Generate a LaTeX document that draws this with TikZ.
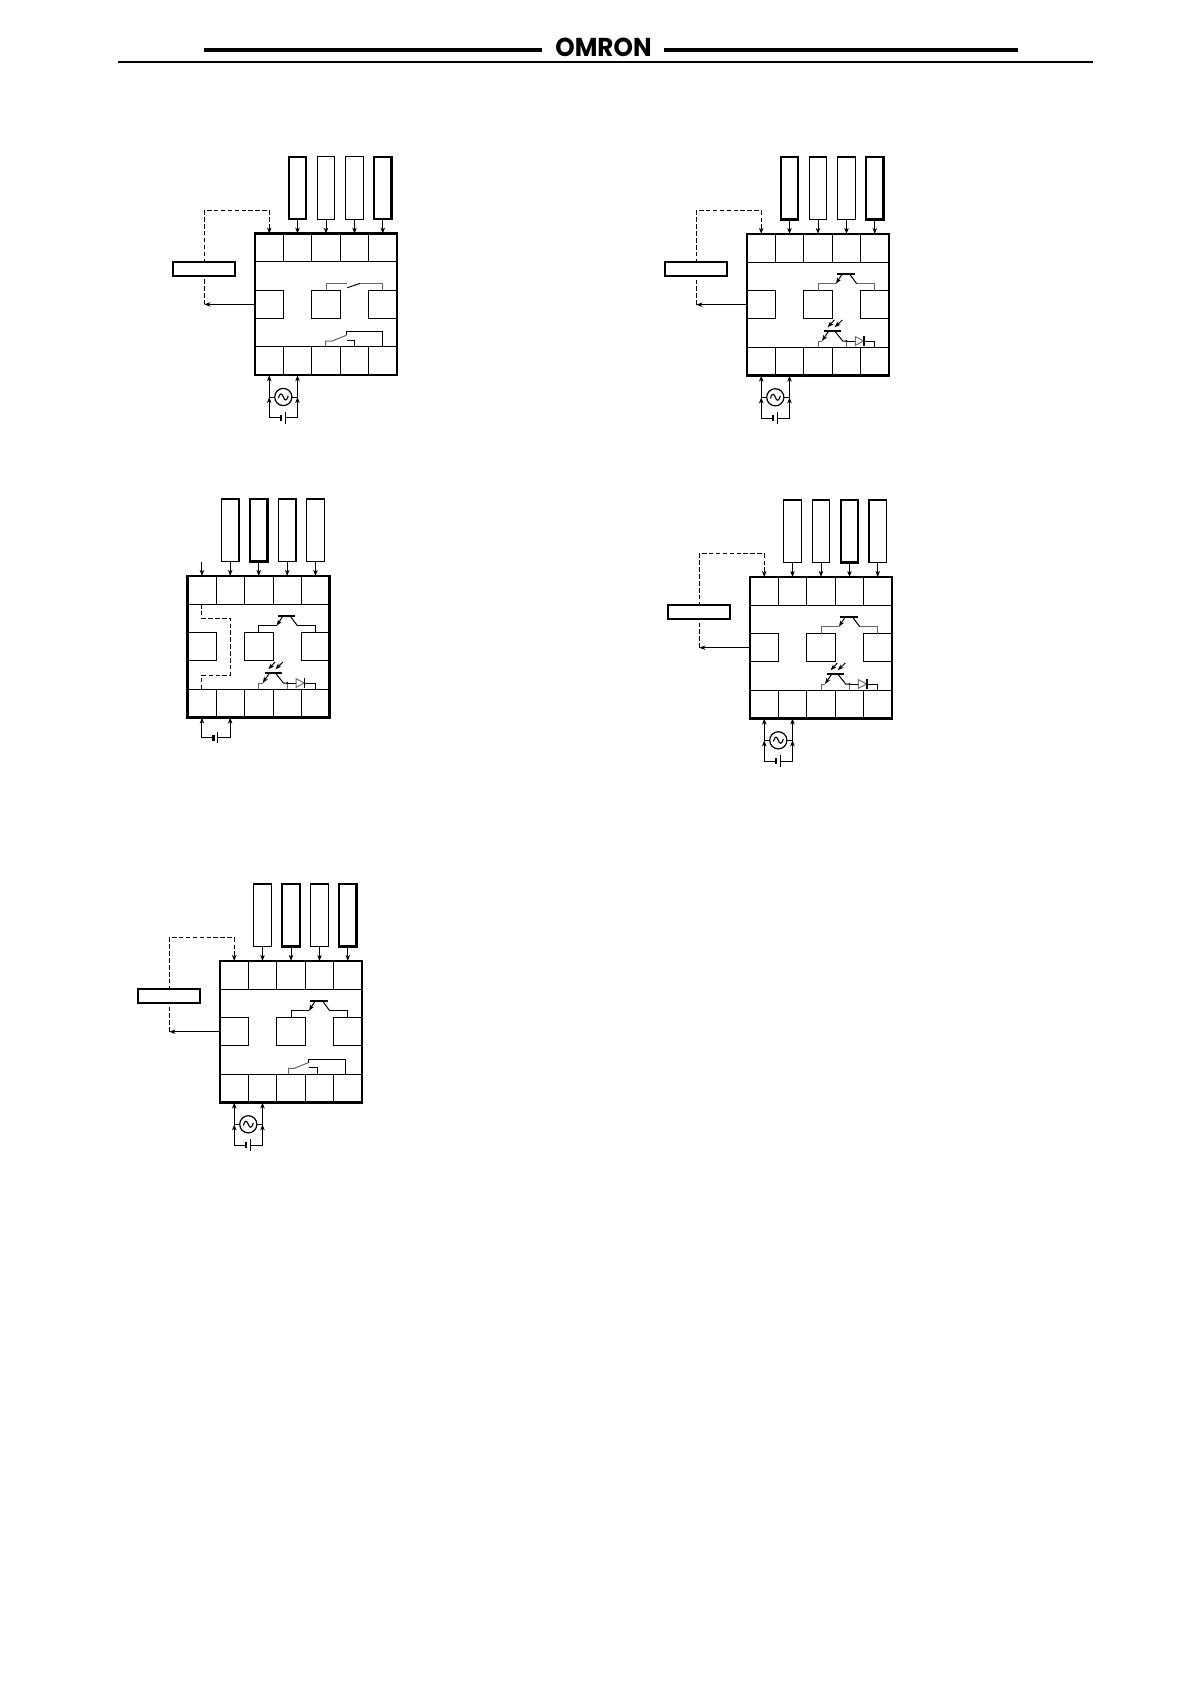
\documentclass[tikz,border=0pt]{standalone}
\usepackage{fontspec}
\usetikzlibrary{arrows.meta,calc}
\newfontfamily\logofont{Poppins}
\tikzset{
  x=1pt,y=-1pt,
  wire/.style={line width=1pt,line join=miter},
  gwire/.style={line width=1pt,draw=black!60},
  arr/.style={wire,-{Stealth[length=6pt,width=4.4pt,inset=1.6pt]}},
  dashwire/.style={wire,dash pattern=on 4.5pt off 2.4pt},
  dasharr/.style={arr,dash pattern=on 4.5pt off 2.4pt},
  cell/.style={draw,line width=1pt,inner sep=0pt,outer sep=0pt,minimum height=28pt},
  outer/.style={draw,line width=2.5pt,inner sep=0pt,outer sep=0pt,minimum width=142pt,minimum height=141.5pt},
  tallbox/.style={draw,inner sep=0pt,outer sep=0pt,minimum width=17.5pt,minimum height=62.5pt},
  thinb/.style={line width=1.4pt},
  thickb/.style={line width=2.2pt},
  ctrlbox/.style={draw,fill=white,line width=2.1pt,inner sep=0pt,outer sep=0pt,minimum width=62.5pt,minimum height=14.3pt},
  acsrc/.style={circle,draw,line width=1.2pt,inner sep=0pt,outer sep=0pt,minimum size=17.2pt},
  topbar/.style={line width=4pt},
  rule/.style={line width=2pt}
}
% the frame with its cells and four top boxes
\newcommand{\ctrlunit}[4]{%
  \node[cell,minimum width=28.5pt] (c1) at (14.25,14) {};
  \node[cell,minimum width=28pt] (c2) at (42.5,14) {};
  \node[cell,minimum width=29pt] (c3) at (71,14) {};
  \node[cell,minimum width=28pt] (c4) at (99.5,14) {};
  \node[cell,minimum width=28.5pt] (c5) at (127.75,14) {};
  \node[cell,minimum width=28.5pt,minimum height=28.5pt] (d1) at (14.25,127.25) {};
  \node[cell,minimum width=28pt,minimum height=28.5pt] (d2) at (42.5,127.25) {};
  \node[cell,minimum width=29pt,minimum height=28.5pt] (d3) at (71,127.25) {};
  \node[cell,minimum width=28pt,minimum height=28.5pt] (d4) at (99.5,127.25) {};
  \node[cell,minimum width=28.5pt,minimum height=28.5pt] (d5) at (127.75,127.25) {};
  \node[cell,minimum width=28.5pt] (m1) at (14.25,70.7) {};
  \node[cell,minimum width=29pt] (m2) at (71,70.7) {};
  \node[cell,minimum width=28.5pt] (m3) at (127.75,70.7) {};
  \node[outer] (fr) at (71,70.75) {};
  \node[tallbox,#1] (b1) at (42.5,-45.7) {};
  \node[tallbox,#2] (b2) at (71,-45.7) {};
  \node[tallbox,#3] (b3) at (99.5,-45.7) {};
  \node[tallbox,#4] (b4) at (127.75,-45.7) {};
  \draw[arr] (b1.south) -- (c2.north);
  \draw[arr] (b2.south) -- (c3.north);
  \draw[arr] (b3.south) -- (c4.north);
  \draw[arr] (b4.south) -- (c5.north);
}
% controller box, dashed route and its arrow
\newcommand{\ctrlroute}{%
  \coordinate (tap) at (-50.7,70.7);
  \coordinate (cnr) at (-50.7,-23.2);
  \coordinate (cnrb) at (c1.north|-cnr);
  \draw[dasharr] (tap) -- (cnr) -- (cnrb) -- (c1.north);
  \node[ctrlbox] (ctl) at (-51,35.2) {};
  \draw[arr] (m1.west) -- (tap);
}
% AC source and battery below the frame
\newcommand{\dualsrc}{%
  \node[acsrc] (src) at (28.3,163.3) {};
  \coordinate (sl) at (d1.south|-src);
  \coordinate (sr) at (d2.south|-src);
  \coordinate (ll) at (14.25,184);
  \coordinate (lr) at (42.5,184);
  \coordinate (pa) at (25.7,184);
  \coordinate (pb) at (30,184);
  \draw[arr] (sl) -- (d1.south);
  \draw[arr] (sr) -- (d2.south);
  \draw[wire] (src.west) -- (sl);
  \draw[wire] (src.east) -- (sr);
  \draw[arr] (ll) -- (sl);
  \draw[arr] (lr) -- (sr);
  \draw[wire] (ll) -- (pa);
  \draw[wire] (pb) -- (lr);
  \draw[line width=2.2pt] ($(pa)+(0,-3)$) -- ($(pa)+(0,3)$);
  \draw[line width=1pt] ($(pb)+(0,-6)$) -- ($(pb)+(0,6)$);
  \draw[line width=1.1pt] (23.3,164.5) .. controls (25,158.5) and (27,159.5) .. (28.3,163.3) .. controls (29.6,167) and (31.6,168) .. (33.3,162);
}
% upper transistor between the middle and right squares
\newcommand{\transup}[1]{%
  \coordinate (ua) at (m2.north|-0,49.7);
  \coordinate (ub) at (89,49.7);
  \coordinate (uc) at (94.7,40.7);
  \coordinate (ud) at (103,40.7);
  \coordinate (ue) at (109.7,49.7);
  \coordinate (uf) at (m3.north|-0,49.7);
  \draw[#1] (m2.north) -- (ua) -- (ub);
  \draw[arr] (uc) -- (ub);
  \draw[wire] (ud) -- (ue);
  \draw[#1] (ue) -- (uf) -- (m3.north);
  \draw[line width=2.1pt] (90.3,39.7) -- (107.7,39.7);
}
% phototransistor and diode above the bottom row
\newcommand{\photolow}{%
  \coordinate (pa1) at (d3.north|-0,107);
  \coordinate (pa2) at (75,107);
  \coordinate (pa3) at (81.3,97.7);
  \coordinate (pa4) at (88.3,97.7);
  \coordinate (pa5) at (95.7,107);
  \coordinate (pa6) at (d4.north|-0,107);
  \coordinate (pa7) at (108.3,107);
  \coordinate (pa8) at (116.5,107);
  \coordinate (pa9) at (d5.north|-0,107);
  \draw[gwire] (d3.north) -- (pa1) -- (pa2);
  \draw[arr] (pa3) -- (pa2);
  \draw[wire] (pa4) -- (pa5) -- (pa6);
  \draw[gwire] (pa6) -- (d4.north);
  \fill (pa6) circle (1.1pt);
  \draw[wire] (pa6) -- (pa7);
  \draw[wire,draw=black!55] (pa7) -- ++(0,-4.4) -- (pa8) -- (pa7|-0,111.4) -- cycle;
  \draw[line width=1.6pt] (116.8,102.4) -- (116.8,111.6);
  \draw[wire] (pa8) -- (pa9) -- (d5.north);
  \draw[line width=2.1pt] (77,97) -- (94.3,97);
  \draw[arr] (87.3,86) -- (80.7,93.3);
  \draw[arr] (95.3,86) -- (87.7,93.3);
}
\newcommand{\relayup}{%
  \coordinate (ra) at (m2.north|-0,49.7);
  \coordinate (rb) at (92.3,49.7);
  \coordinate (rc) at (92.3,54);
  \coordinate (rd) at (105,49.7);
  \coordinate (re) at (m3.north|-0,49.7);
  \draw[gwire] (m2.north) -- (ra) -- (rb);
  \draw[wire] (rc) -- (rd);
  \draw[gwire] (rd) -- (re) -- (m3.north);
}
% #1 left x, #2 contact top y, #3 blade tip x, #4 right-hand x, #5 lower contact x
\newcommand{\relaylow}[5]{%
  \coordinate (la) at (#1,113);
  \coordinate (lb) at (#1,107.3);
  \coordinate (lc) at ($(#3,107.3)+(-14.3,0)$);
  \coordinate (ld) at (#3,101.5);
  \coordinate (le) at (#3,#2);
  \coordinate (lf) at (#4,#2);
  \coordinate (lg) at (#4,113);
  \coordinate (lh) at (#3,106.3);
  \coordinate (li) at (#5,106.3);
  \coordinate (lj) at (#5,113);
  \draw[gwire] (la) -- (lb) -- (lc) -- (ld);
  \draw[wire] (ld) -- (le) -- (lf) -- (lg);
  \draw[wire] (lh) -- (li) -- (lj);
}
\begin{document}
\begin{tikzpicture}
\useasboundingbox (0,0) rectangle (1190,1682);
\fill[white] (0,0) rectangle (1190,1682);
% page header
\coordinate (hbl) at (204,49.5);
\coordinate (hbm) at (542,49.5);
\coordinate (hbn) at (664,49.5);
\coordinate (hbr) at (1018,49.5);
\coordinate (rl) at (118,62);
\coordinate (rr) at (1093,62);
\draw[topbar] (hbl) -- (hbm);
\draw[topbar] (hbn) -- (hbr);
\draw[rule] (rl) -- (rr);
\node[inner sep=0pt,xscale=1.03,yscale=1.08] (logo) at (603.5,47.5) {\logofont\bfseries\fontsize{24}{24}\selectfont OMRON};

% unit 1
\begin{scope}[shift={(255,233.7)},name prefix=a-]
  \ctrlunit{thickb}{thinb}{thinb}{thickb}
  \ctrlroute
  \dualsrc
  \relayup
  \relaylow{70.7}{98}{91.5}{127.3}{99.5}
\end{scope}

% unit 2
\begin{scope}[shift={(747,234)},name prefix=b-]
  \ctrlunit{thickb}{thinb}{thinb}{thickb}
  \ctrlroute
  \dualsrc
  \transup{gwire}
  \photolow
\end{scope}

% unit 3
\begin{scope}[shift={(187.7,576)},name prefix=c-]
  \ctrlunit{thinb}{thickb}{thinb}{thinb}
  \coordinate (free) at (14.25,-14);
  \draw[arr] (free) -- (c1.north);
  \coordinate (r1) at (c1.south|-0,42.3);
  \coordinate (r2) at (43,42.3);
  \coordinate (r3) at (43,99);
  \coordinate (r4) at (d1.north|-0,99);
  \draw[dashwire] (c1.south) -- (r1) -- (r2) -- (r3) -- (r4) -- (d1.north);
  \coordinate (ll) at (14.25,161.5);
  \coordinate (lr) at (42.5,161.5);
  \coordinate (pa) at (25.7,161.5);
  \coordinate (pb) at (30,161.5);
  \draw[arr] (ll) -- (d1.south);
  \draw[arr] (lr) -- (d2.south);
  \draw[wire] (ll) -- (pa);
  \draw[wire] (pb) -- (lr);
  \draw[line width=2.2pt] ($(pa)+(0,-3)$) -- ($(pa)+(0,3)$);
  \draw[line width=1pt] ($(pb)+(0,-5.5)$) -- ($(pb)+(0,5.5)$);
  \transup{wire}
  \photolow
\end{scope}

% unit 4
\begin{scope}[shift={(750,577)},name prefix=d-]
  \ctrlunit{thinb}{thinb}{thickb}{thinb}
  \ctrlroute
  \dualsrc
  \transup{gwire}
  \photolow
\end{scope}

% unit 5
\begin{scope}[shift={(220,961)},name prefix=e-]
  \ctrlunit{thinb}{thickb}{thinb}{thickb}
  \ctrlroute
  \dualsrc
  \transup{wire}
  \relaylow{68.7}{98.7}{88.7}{125.3}{97.3}
\end{scope}
\end{tikzpicture}
\end{document}
